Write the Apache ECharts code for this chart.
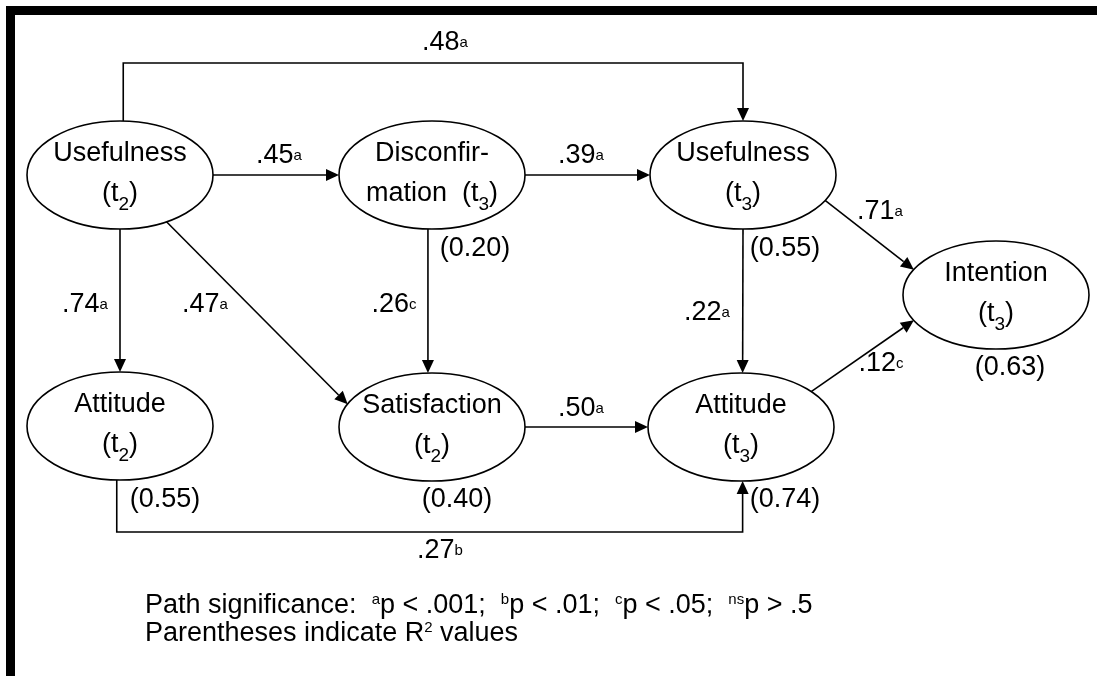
<!DOCTYPE html>
<html>
<head>
<meta charset="utf-8">
<script src="https://cdn.jsdelivr.net/npm/echarts@6/dist/echarts.min.js"></script>
<style>
html, body { margin: 0; padding: 0; background: #fff; }
#main { width: 1097px; height: 676px; }
</style>
</head>
<body>
<div id="main"></div>
<script>
// constructs of the model
var nodeNames = ['U2', 'D3', 'U3', 'I3', 'A2', 'S2', 'A3'];
var nodeTitle = ['Usefulness', 'Disconfir-', 'Usefulness', 'Intention', 'Attitude', 'Satisfaction', 'Attitude'];
var nodeTimePrefix = ['(t', 'mation  (t', '(t', '(t', '(t', '(t', '(t'];
var nodeTime = ['2', '3', '3', '3', '2', '2', '3'];
var nodeR2 = ['', '0.20', '0.55', '0.63', '0.55', '0.40', '0.74'];

// structural paths
var pathFrom = ['U2', 'D3', 'U2', 'U2', 'U2', 'D3', 'U3', 'U3', 'A3', 'S2', 'A2'];
var pathTo   = ['D3', 'U3', 'U3', 'A2', 'S2', 'S2', 'A3', 'I3', 'I3', 'A3', 'A3'];
var pathCoef = ['.45', '.39', '.48', '.74', '.47', '.26', '.22', '.71', '.12', '.50', '.27'];
var pathSig  = ['a', 'a', 'a', 'a', 'a', 'c', 'a', 'a', 'c', 'a', 'b'];

// layout (diagram units)
var nodeX = [120, 432, 743, 996, 120, 432, 741];
var nodeY = [175, 175, 175, 295, 426, 427, 427];
var r2Dx = [0, 43, 42, 14, 45, 25, 44];
var r2Dy = [0, 74, 74, 73, 74, 73, 73];
var pathStartAngle = [0, 0, -88, 90, 60, 92.5, 90, 28, -41, 0, 92];
var pathEndAngle = [180, 180, -90, -90, -155, -92.5, -89, -152, 152, 180, 89];
var pathElbowY = [null, null, 63, null, null, null, null, null, null, null, 532];
var pathLabelX = [279, 581, 445, 85, 205, 394, 707, 880, 881, 581, 440];
var pathLabelY = [156, 156, 43, 305, 305, 305, 313, 212, 364, 409, 551];

var RX = 93, RY = 54;
var FONT = '"Liberation Sans", Arial, sans-serif';

var nodeIndex = {};
nodeNames.forEach(function (n, i) { nodeIndex[n] = i; });

function anchor(i, deg) {
    var a = deg * Math.PI / 180;
    return [nodeX[i] + RX * Math.cos(a), nodeY[i] + RY * Math.sin(a)];
}

var labelRich = {
    n: { fontSize: 27, fontFamily: FONT, lineHeight: 30, fill: '#000' },
    s: { fontSize: 15, fontFamily: FONT, lineHeight: 30, fill: '#000' }
};

function renderPath(params, api) {
    var i = api.value(2);
    var a = nodeIndex[pathFrom[i]], b = nodeIndex[pathTo[i]];
    var p0 = anchor(a, pathStartAngle[i]), p1 = anchor(b, pathEndAngle[i]);
    var pts = [p0];
    if (pathElbowY[i] != null) {
        pts.push([p0[0], pathElbowY[i]], [p1[0], pathElbowY[i]]);
    }
    pts.push(p1);
    pts = pts.map(function (p) { return api.coord(p); });

    var tip = pts[pts.length - 1], prev = pts[pts.length - 2];
    var dx = tip[0] - prev[0], dy = tip[1] - prev[1];
    var len = Math.sqrt(dx * dx + dy * dy);
    var ux = dx / len, uy = dy / len;
    var L = 13, W = 6;
    var base = [tip[0] - ux * L, tip[1] - uy * L];
    var linePts = pts.slice(0, -1).concat([base]);

    var lp = api.coord([api.value(0), api.value(1)]);
    return {
        type: 'group',
        children: [
            { type: 'polyline', shape: { points: linePts }, style: { stroke: '#000', lineWidth: 1.6, fill: null } },
            { type: 'polygon', shape: { points: [tip, [base[0] - uy * W, base[1] + ux * W], [base[0] + uy * W, base[1] - ux * W]] }, style: { fill: '#000' } },
            {
                type: 'text',
                style: {
                    x: lp[0], y: lp[1], align: 'center', verticalAlign: 'middle',
                    text: '{n|' + pathCoef[i] + '}{s|' + pathSig[i] + '}',
                    rich: labelRich
                }
            }
        ]
    };
}

function renderNode(params, api) {
    var i = params.dataIndex;
    var c = api.coord([api.value(0), api.value(1)]);
    var children = [
        { type: 'ellipse', shape: { cx: c[0], cy: c[1], rx: RX, ry: RY }, style: { fill: '#fff', stroke: '#000', lineWidth: 1.6 } },
        {
            type: 'text',
            style: {
                x: c[0], y: c[1] - 1, align: 'center', verticalAlign: 'middle',
                text: '{h|' + nodeTitle[i] + '}\n{h|' + nodeTimePrefix[i] + '}{b|' + nodeTime[i] + '}{h|)}',
                rich: {
                    h: { fontSize: 27, fontFamily: FONT, lineHeight: 40, fill: '#000' },
                    b: { fontSize: 19, fontFamily: FONT, lineHeight: 22, verticalAlign: 'bottom', fill: '#000' }
                }
            }
        }
    ];
    if (nodeR2[i]) {
        var r = api.coord([api.value(0) + r2Dx[i], api.value(1) + r2Dy[i]]);
        children.push({
            type: 'text',
            style: {
                x: r[0], y: r[1], align: 'center', verticalAlign: 'middle',
                text: '(' + nodeR2[i] + ')', fontSize: 27, fontFamily: FONT, fill: '#000'
            }
        });
    }
    return { type: 'group', children: children };
}

var chart = echarts.init(document.getElementById('main'));
chart.setOption({
    animation: false,
    grid: { left: 0, right: 0, top: 0, bottom: 0 },
    xAxis: { type: 'value', min: 0, max: 1097, show: false },
    yAxis: { type: 'value', min: 0, max: 676, inverse: true, show: false },
    graphic: [
        { type: 'rect', shape: { x: 6, y: 6, width: 1091, height: 9 }, style: { fill: '#000' } },
        { type: 'rect', shape: { x: 6, y: 6, width: 9, height: 670 }, style: { fill: '#000' } },
        {
            type: 'text', left: 145, top: 592,
            style: {
                text: 'Path significance:  {s|a}p < .001;  {s|b}p < .01;  {s|c}p < .05;  {s|ns}p > .5',
                fontSize: 27, fontFamily: FONT, fill: '#000',
                rich: {
                    s: { fontSize: 15, fontFamily: FONT, lineHeight: 24, verticalAlign: 'top', fill: '#000' }
                }
            }
        },
        {
            type: 'text', left: 145, top: 620,
            style: {
                text: 'Parentheses indicate R{s|2} values',
                fontSize: 27, fontFamily: FONT, fill: '#000',
                rich: {
                    s: { fontSize: 15, fontFamily: FONT, lineHeight: 22, verticalAlign: 'top', fill: '#000' }
                }
            }
        }
    ],
    series: [
        {
            type: 'custom',
            coordinateSystem: 'cartesian2d',
            clip: false,
            renderItem: renderPath,
            data: pathCoef.map(function (v, i) { return [pathLabelX[i], pathLabelY[i], i]; }),
            silent: true
        },
        {
            type: 'custom',
            coordinateSystem: 'cartesian2d',
            clip: false,
            renderItem: renderNode,
            data: nodeNames.map(function (n, i) { return [nodeX[i], nodeY[i]]; }),
            silent: true
        }
    ]
});
</script>
</body>
</html>
